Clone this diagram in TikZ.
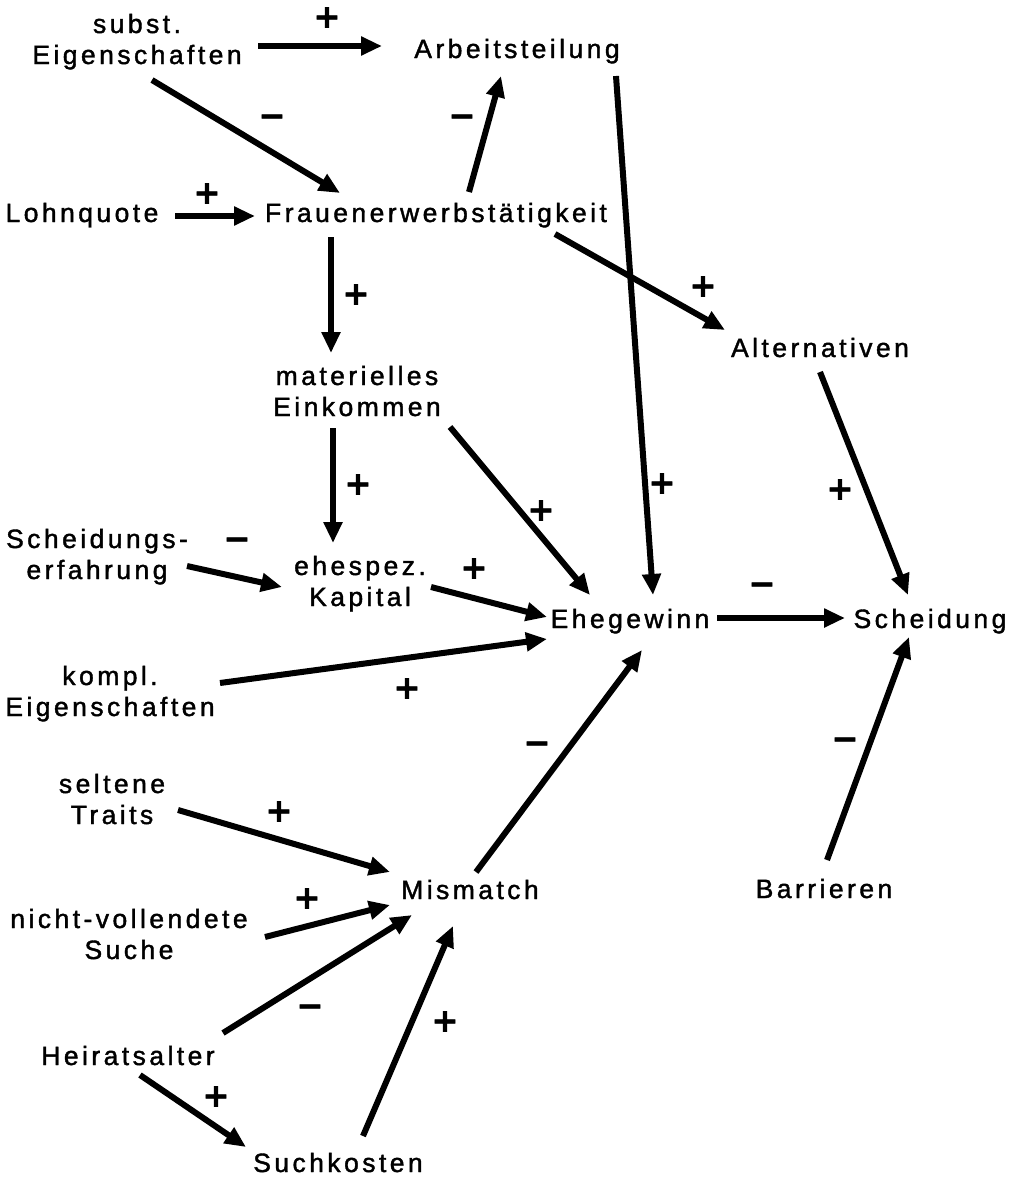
\documentclass[tikz,border=0pt]{standalone}
\usepackage{fontspec}
\setmainfont{Liberation Sans}[LetterSpace=13.0, FakeBold=1.5]
\newfontfamily\signfont{DejaVu Sans}[FakeBold=2]
\usetikzlibrary{arrows.meta}
\begin{document}
\begin{tikzpicture}[x=1pt,y=-1pt,
  lbl/.style={font=\fontsize{26.5}{31}\selectfont, inner sep=0pt, anchor=base},
  arr/.style={line width=6pt, -{Triangle[length=21pt,width=18pt]}},
  sgn/.style={font=\signfont\bfseries\fontsize{32}{32}\selectfont, inner sep=0pt, anchor=center, text height=23pt, text depth=0pt}]
\useasboundingbox[fill=white] (0,0) rectangle (1013,1178);

% nodes (anchor = baseline of first line)
\node[lbl] (se)  at (137,33)  {\begin{tabular}[t]{@{}c@{}}subst.\\Eigenschaften\end{tabular}};
\node[lbl] (at)  at (517,58)  {Arbeitsteilung};
\node[lbl] (lq)  at (82,222)  {Lohnquote};
\node[lbl] (fe)  at (436,222) {Frauenerwerbstätigkeit};
\node[lbl] (al)  at (820,357) {Alternativen};
\node[lbl] (me)  at (357,385) {\begin{tabular}[t]{@{}c@{}}materielles\\Einkommen\end{tabular}};
\node[lbl] (sc)  at (97,548)  {\begin{tabular}[t]{@{}c@{}}Scheidungs-\\erfahrung\end{tabular}};
\node[lbl] (ek)  at (360,575) {\begin{tabular}[t]{@{}c@{}}ehespez.\\Kapital\end{tabular}};
\node[lbl] (ko)  at (110,685) {\begin{tabular}[t]{@{}c@{}}kompl.\\Eigenschaften\end{tabular}};
\node[lbl] (eg)  at (630,628) {Ehegewinn};
\node[lbl] (sd)  at (930,628) {Scheidung};
\node[lbl] (sel) at (112,793) {\begin{tabular}[t]{@{}c@{}}seltene\\Traits\end{tabular}};
\node[lbl] (mm)  at (470,899) {Mismatch};
\node[lbl] (nv)  at (129,928) {\begin{tabular}[t]{@{}c@{}}nicht-vollendete\\Suche\end{tabular}};
\node[lbl] (ba)  at (824,898) {Barrieren};
\node[lbl] (ha)  at (128,1065) {Heiratsalter};
\node[lbl] (sk)  at (338,1172) {Suchkosten};

% connectors
\draw[arr] ([shift={(121,13)}]se.base) -- ([shift={(-135,-12)}]at.base);
\draw[arr] ([shift={(15,47)}]se.base) -- ([shift={(-96,-29)}]fe.base);
\draw[arr] ([shift={(93,-6)}]lq.base) -- ([shift={(-181,-6)}]fe.base);
\draw[arr] ([shift={(33,-30)}]fe.base) -- ([shift={(-16,18)}]at.base);
\draw[arr] ([shift={(99,18)}]at.base) -- ([shift={(23,-33)}]eg.base);
\draw[arr] ([shift={(119,12)}]fe.base) -- ([shift={(-95,-27)}]al.base);
\draw[arr] ([shift={(0,15)}]al.base) -- ([shift={(-22,-33)}]sd.base);
\draw[arr] ([shift={(-105,15)}]fe.base) -- ([shift={(-26,-32)}]me.base);
\draw[arr] ([shift={(-24,43)}]me.base) -- ([shift={(-27,-32)}]ek.base);
\draw[arr] ([shift={(93,42)}]me.base) -- ([shift={(-40,-33)}]eg.base);
\draw[arr] ([shift={(90,18)}]sc.base) -- ([shift={(-78,12)}]ek.base);
\draw[arr] ([shift={(71,12)}]ek.base) -- ([shift={(-83,-11)}]eg.base);
\draw[arr] ([shift={(110,-2)}]ko.base) -- ([shift={(-83,11)}]eg.base);
\draw[arr] ([shift={(87,-10)}]eg.base) -- ([shift={(-85,-10)}]sd.base);
\draw[arr] ([shift={(3,-38)}]ba.base) -- ([shift={(-21,9)}]sd.base);
\draw[arr] ([shift={(6,-27)}]mm.base) -- ([shift={(12,22)}]eg.base);
\draw[arr] ([shift={(66,17)}]sel.base) -- ([shift={(-80,-27)}]mm.base);
\draw[arr] ([shift={(136,9)}]nv.base) -- ([shift={(-80,6)}]mm.base);
\draw[arr] ([shift={(95,-32)}]ha.base) -- ([shift={(-58,16)}]mm.base);
\draw[arr] ([shift={(25,-36)}]sk.base) -- ([shift={(-17,27)}]mm.base);
\draw[arr] ([shift={(12,10)}]ha.base) -- ([shift={(-92,-25)}]sk.base);

% signs
\node[sgn] (p1)  at (327,16)  {+};
\node[sgn] (p2)  at (272,115) {−};
\node[sgn] (p3)  at (207,192) {+};
\node[sgn] (p4)  at (462,115) {−};
\node[sgn] (p5)  at (356,293) {+};
\node[sgn] (p6)  at (703,285) {+};
\node[sgn] (p7)  at (358,483) {+};
\node[sgn] (p8)  at (662,482) {+};
\node[sgn] (p9)  at (840,488) {+};
\node[sgn] (p10) at (541,509) {+};
\node[sgn] (p11) at (237,538) {−};
\node[sgn] (p12) at (474,567) {+};
\node[sgn] (p13) at (762,583) {−};
\node[sgn] (p14) at (407,687) {+};
\node[sgn] (p15) at (845,738) {−};
\node[sgn] (p16) at (537,742) {−};
\node[sgn] (p17) at (279,810) {+};
\node[sgn] (p18) at (307,897) {+};
\node[sgn] (p19) at (310,1005) {−};
\node[sgn] (p20) at (445,1020) {+};
\node[sgn] (p21) at (216,1095) {+};
\end{tikzpicture}
\end{document}
